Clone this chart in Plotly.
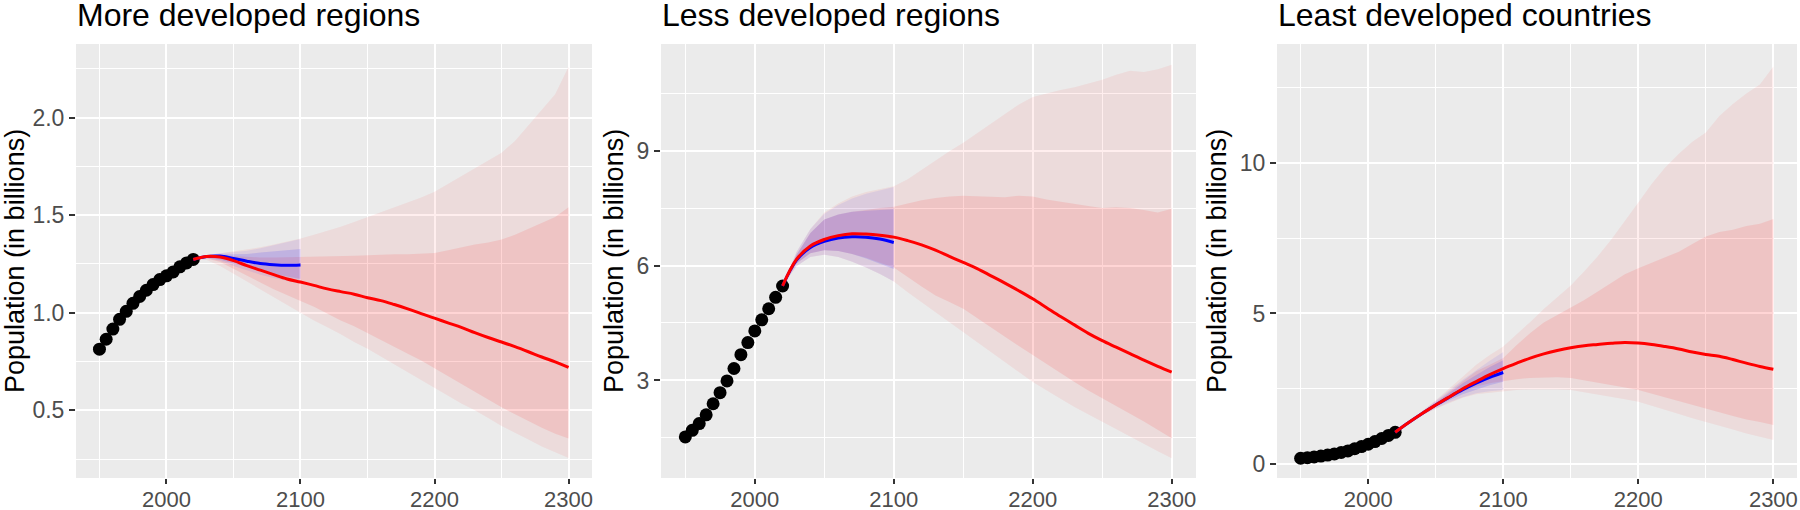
import plotly.graph_objects as go

# ---------------- data ----------------
obs_years = [1950, 1955, 1960, 1965, 1970, 1975, 1980, 1985, 1990, 1995, 2000, 2005, 2010, 2015, 2020]
obs_more = [0.813, 0.864, 0.916, 0.966, 1.007, 1.048, 1.083, 1.115, 1.144, 1.170, 1.189, 1.209, 1.235, 1.255, 1.273]
obs_less = [1.528, 1.698, 1.876, 2.103, 2.392, 2.682, 2.989, 3.312, 3.673, 3.990, 4.294, 4.583, 4.871, 5.170, 5.465]
obs_least = [0.195, 0.215, 0.240, 0.268, 0.301, 0.340, 0.386, 0.440, 0.510, 0.584, 0.660, 0.749, 0.850, 0.954, 1.057]

blue_years = [2020, 2030, 2040, 2050, 2060, 2070, 2080, 2090, 2100]
red_years = [2020, 2030, 2040, 2050, 2060, 2070, 2080, 2090, 2100, 2110, 2120, 2130, 2140, 2150,
             2160, 2170, 2180, 2190, 2200, 2210, 2220, 2230, 2240, 2250, 2260, 2270, 2280, 2290, 2300]

# More developed regions
more_blue_med = [1.273, 1.288, 1.290, 1.278, 1.264, 1.252, 1.246, 1.243, 1.245]
more_blue_u95 = [1.273, 1.295, 1.305, 1.310, 1.318, 1.330, 1.345, 1.360, 1.378]
more_blue_u80 = [1.273, 1.292, 1.298, 1.300, 1.301, 1.308, 1.315, 1.320, 1.327]
more_blue_l80 = [1.273, 1.282, 1.272, 1.255, 1.235, 1.215, 1.198, 1.185, 1.173]
more_blue_l95 = [1.273, 1.279, 1.265, 1.240, 1.216, 1.195, 1.178, 1.162, 1.148]
more_red_med = [1.273, 1.288, 1.285, 1.267, 1.241, 1.218, 1.195, 1.173, 1.157, 1.140, 1.122, 1.108, 1.095, 1.077,
                1.062, 1.042, 1.020, 0.995, 0.972, 0.948, 0.925, 0.898, 0.873, 0.850, 0.826, 0.800, 0.773, 0.748, 0.720]
more_red_u95 = [1.273, 1.295, 1.305, 1.315, 1.325, 1.335, 1.350, 1.365, 1.380, 1.400, 1.420, 1.440, 1.465, 1.490,
                1.515, 1.540, 1.565, 1.590, 1.620, 1.660, 1.700, 1.740, 1.780, 1.820, 1.880, 1.960, 2.040, 2.120, 2.260]
more_red_u80 = [1.273, 1.290, 1.295, 1.290, 1.285, 1.283, 1.283, 1.284, 1.285, 1.287, 1.289, 1.290, 1.292, 1.295,
                1.298, 1.300, 1.300, 1.302, 1.306, 1.320, 1.335, 1.350, 1.360, 1.375, 1.400, 1.430, 1.460, 1.490, 1.540]
more_red_l80 = [1.273, 1.278, 1.260, 1.225, 1.190, 1.155, 1.120, 1.090, 1.060, 1.030, 0.995, 0.960, 0.930, 0.895,
                0.860, 0.825, 0.790, 0.755, 0.715, 0.675, 0.635, 0.595, 0.555, 0.515, 0.480, 0.445, 0.410, 0.380, 0.355]
more_red_l95 = [1.273, 1.270, 1.240, 1.200, 1.160, 1.120, 1.080, 1.040, 1.000, 0.960, 0.925, 0.890, 0.850, 0.815,
                0.775, 0.735, 0.695, 0.655, 0.615, 0.575, 0.535, 0.500, 0.460, 0.420, 0.385, 0.350, 0.315, 0.285, 0.255]

# Less developed regions
less_blue_med = [5.47, 6.14, 6.47, 6.63, 6.72, 6.75, 6.74, 6.69, 6.60]
less_blue_u95 = [5.47, 6.35, 6.95, 7.35, 7.58, 7.75, 7.87, 7.96, 8.05]
less_blue_u80 = [5.47, 6.28, 6.85, 7.20, 7.33, 7.40, 7.43, 7.45, 7.47]
less_blue_l80 = [5.47, 6.05, 6.32, 6.40, 6.38, 6.30, 6.18, 6.05, 5.91]
less_blue_l95 = [5.47, 5.98, 6.22, 6.28, 6.22, 6.10, 5.95, 5.78, 5.58]
less_red_med = [5.47, 6.16, 6.51, 6.68, 6.78, 6.83, 6.82, 6.79, 6.74, 6.65, 6.54, 6.40, 6.24, 6.08,
                5.92, 5.73, 5.54, 5.34, 5.13, 4.90, 4.67, 4.45, 4.23, 4.04, 3.87, 3.70, 3.53, 3.37, 3.22]
less_red_u95 = [5.47, 6.35, 6.95, 7.38, 7.62, 7.80, 7.92, 8.00, 8.07, 8.25, 8.50, 8.75, 8.98, 9.20,
                9.45, 9.70, 9.95, 10.20, 10.40, 10.50, 10.58, 10.65, 10.75, 10.85, 10.98, 11.08, 11.05, 11.12, 11.24]
less_red_u80 = [5.47, 6.28, 6.85, 7.20, 7.33, 7.40, 7.45, 7.50, 7.53, 7.62, 7.70, 7.76, 7.80, 7.82,
                7.81, 7.79, 7.78, 7.82, 7.80, 7.72, 7.66, 7.60, 7.55, 7.50, 7.52, 7.50, 7.45, 7.38, 7.48]
less_red_l80 = [5.47, 6.05, 6.32, 6.40, 6.38, 6.30, 6.20, 6.07, 5.95, 5.70, 5.45, 5.22, 5.05, 4.87,
                4.62, 4.38, 4.14, 3.90, 3.65, 3.42, 3.19, 2.96, 2.74, 2.53, 2.33, 2.13, 1.93, 1.72, 1.49]
less_red_l95 = [5.47, 5.98, 6.22, 6.28, 6.22, 6.10, 5.95, 5.78, 5.58, 5.30, 5.02, 4.76, 4.50, 4.26,
                4.00, 3.74, 3.48, 3.22, 2.96, 2.74, 2.52, 2.31, 2.11, 1.92, 1.72, 1.53, 1.34, 1.15, 0.97]

# Least developed countries
least_blue_med = [1.06, 1.38, 1.68, 1.96, 2.22, 2.47, 2.69, 2.88, 3.04]
least_blue_u95 = [1.06, 1.40, 1.75, 2.10, 2.45, 2.80, 3.12, 3.43, 3.72]
least_blue_u80 = [1.06, 1.39, 1.72, 2.05, 2.37, 2.68, 2.96, 3.22, 3.45]
least_blue_l80 = [1.06, 1.37, 1.65, 1.90, 2.12, 2.32, 2.48, 2.62, 2.73]
least_blue_l95 = [1.06, 1.36, 1.62, 1.85, 2.05, 2.22, 2.35, 2.42, 2.46]
least_red_med = [1.06, 1.38, 1.68, 1.96, 2.23, 2.50, 2.74, 2.97, 3.17, 3.35, 3.52, 3.66, 3.77, 3.86,
                 3.93, 3.97, 4.01, 4.04, 4.02, 3.97, 3.90, 3.82, 3.72, 3.64, 3.58, 3.47, 3.35, 3.24, 3.15]
least_red_u95 = [1.06, 1.40, 1.76, 2.12, 2.50, 2.90, 3.30, 3.62, 3.90, 4.30, 4.72, 5.15, 5.55, 5.93,
                 6.40, 6.90, 7.45, 8.05, 8.68, 9.30, 9.85, 10.30, 10.70, 11.00, 11.55, 11.95, 12.30, 12.60, 13.19]
least_red_u80 = [1.06, 1.39, 1.72, 2.06, 2.40, 2.75, 3.08, 3.30, 3.52, 3.95, 4.35, 4.70, 4.95, 5.18,
                 5.45, 5.73, 6.02, 6.30, 6.50, 6.68, 6.88, 7.05, 7.30, 7.55, 7.70, 7.78, 7.90, 7.98, 8.13]
least_red_l80 = [1.06, 1.37, 1.66, 1.93, 2.17, 2.40, 2.57, 2.68, 2.75, 2.82, 2.86, 2.88, 2.88, 2.86,
                 2.80, 2.72, 2.62, 2.54, 2.46, 2.34, 2.22, 2.10, 1.97, 1.85, 1.72, 1.60, 1.48, 1.40, 1.30]
least_red_l95 = [1.06, 1.36, 1.62, 1.84, 2.03, 2.20, 2.32, 2.38, 2.42, 2.46, 2.48, 2.49, 2.48, 2.46,
                 2.40, 2.32, 2.23, 2.15, 2.07, 1.95, 1.80, 1.66, 1.52, 1.40, 1.27, 1.15, 1.02, 0.90, 0.80]

titles = ["More developed regions", "Less developed regions", "Least developed countries"]
y_title = "Population (in billions)"
x_ticks = [2000, 2100, 2200, 2300]
x_minor = [1950, 2050, 2150, 2250]
y_ticks = [[0.5, 1.0, 1.5, 2.0], [3, 6, 9], [0, 5, 10]]
y_ticktext = [["0.5", "1.0", "1.5", "2.0"], ["3", "6", "9"], ["0", "5", "10"]]
y_minor = [[0.25, 0.75, 1.25, 1.75, 2.25], [1.5, 4.5, 7.5, 10.5], [2.5, 7.5, 12.5]]
y_ranges = [[0.153, 2.377], [0.455, 11.78], [-0.46, 13.94]]
x_range = [1932.5, 2317.5]

panels = [
    (obs_more, more_blue_med, more_blue_u95, more_blue_u80, more_blue_l80, more_blue_l95,
     more_red_med, more_red_u95, more_red_u80, more_red_l80, more_red_l95),
    (obs_less, less_blue_med, less_blue_u95, less_blue_u80, less_blue_l80, less_blue_l95,
     less_red_med, less_red_u95, less_red_u80, less_red_l80, less_red_l95),
    (obs_least, least_blue_med, least_blue_u95, least_blue_u80, least_blue_l80, least_blue_l95,
     least_red_med, least_red_u95, least_red_u80, least_red_l80, least_red_l95),
]

# ---------------- layout geometry ----------------
W, H = 1800, 510
x_domains_px = [(76, 592), (661, 1196), (1277, 1797)]
y_domain_px = (44, 478)  # top, bottom
ytitle_x_px = [15, 614, 1217]

FONT = "Liberation Sans, Arial, Helvetica, sans-serif"
RED_OUT = "rgba(255,0,0,0.065)"
RED_IN = "rgba(255,0,0,0.10)"
BLUE_OUT = "rgba(0,0,255,0.07)"
BLUE_IN = "rgba(0,0,255,0.12)"

fig = go.Figure()


def band(xs, lo, hi, color, xa, ya):
    return go.Scatter(x=list(xs) + list(xs)[::-1], y=list(hi) + list(lo)[::-1],
                      fill="toself", fillcolor=color, line=dict(width=0), mode="lines",
                      hoverinfo="skip", showlegend=False, xaxis=xa, yaxis=ya)


for i, p in enumerate(panels):
    obs, bmed, bu95, bu80, bl80, bl95, rmed, ru95, ru80, rl80, rl95 = p
    xa = "x" if i == 0 else f"x{i+1}"
    ya = "y" if i == 0 else f"y{i+1}"
    fig.add_trace(band(red_years, rl95, ru95, RED_OUT, xa, ya))
    fig.add_trace(band(red_years, rl80, ru80, RED_IN, xa, ya))
    fig.add_trace(band(blue_years, bl95, bu95, BLUE_OUT, xa, ya))
    fig.add_trace(band(blue_years, bl80, bu80, BLUE_IN, xa, ya))
    fig.add_trace(go.Scatter(x=obs_years, y=obs, mode="markers",
                             marker=dict(color="black", size=13, line=dict(width=0)),
                             showlegend=False, xaxis=xa, yaxis=ya))
    fig.add_trace(go.Scatter(x=blue_years, y=bmed, mode="lines", line=dict(color="#0000FF", width=3, shape="spline"),
                             showlegend=False, xaxis=xa, yaxis=ya))
    fig.add_trace(go.Scatter(x=red_years, y=rmed, mode="lines", line=dict(color="#FF0000", width=3, shape="spline"),
                             showlegend=False, xaxis=xa, yaxis=ya))

    dom_x = [x_domains_px[i][0] / W, x_domains_px[i][1] / W]
    dom_y = [1 - y_domain_px[1] / H, 1 - y_domain_px[0] / H]
    axis_common = dict(showline=False, zeroline=False, ticks="outside", tickwidth=2,
                       tickcolor="#333333", gridcolor="white", gridwidth=2.2, automargin=False)
    xkey = "xaxis" if i == 0 else f"xaxis{i+1}"
    ykey = "yaxis" if i == 0 else f"yaxis{i+1}"
    fig.update_layout({
        xkey: dict(domain=dom_x, range=x_range, tickmode="array", tickvals=x_ticks,
                   ticktext=[str(t) for t in x_ticks], anchor=ya, ticklen=5,
                   ticklabelposition="outside", ticklabelstandoff=-3,
                   tickfont=dict(family=FONT, size=22, color="#4D4D4D"),
                   minor=dict(tickvals=x_minor, showgrid=True, gridcolor="white", gridwidth=1.1, ticks=""),
                   **axis_common),
        ykey: dict(domain=dom_y, range=y_ranges[i], tickmode="array", tickvals=y_ticks[i],
                   ticktext=y_ticktext[i], anchor=xa, ticklen=6,
                   tickfont=dict(family=FONT, size=23, color="#4D4D4D"),
                   minor=dict(tickvals=y_minor[i], showgrid=True, gridcolor="white", gridwidth=1.1, ticks=""),
                   **axis_common),
    })
    fig.add_annotation(text=titles[i], xref="paper", yref="paper", x=(x_domains_px[i][0] - 1) / W,
                       y=1.0, xanchor="left", yanchor="top", showarrow=False, yshift=5,
                       font=dict(family=FONT, size=32, color="black"))
    fig.add_annotation(text=y_title, xref="paper", yref="paper", x=ytitle_x_px[i] / W,
                       y=1 - (y_domain_px[0] + y_domain_px[1]) / 2 / H, xanchor="center", yanchor="middle",
                       textangle=-90, showarrow=False, font=dict(family=FONT, size=27, color="black"))

fig.update_layout(width=W, height=H, margin=dict(l=0, r=0, t=0, b=0),
                  paper_bgcolor="white", plot_bgcolor="#EBEBEB", showlegend=False)

fig.write_html("out.html", config={"displayModeBar": False},
               post_script="document.body.style.margin='0px';document.body.style.overflow='hidden';")
